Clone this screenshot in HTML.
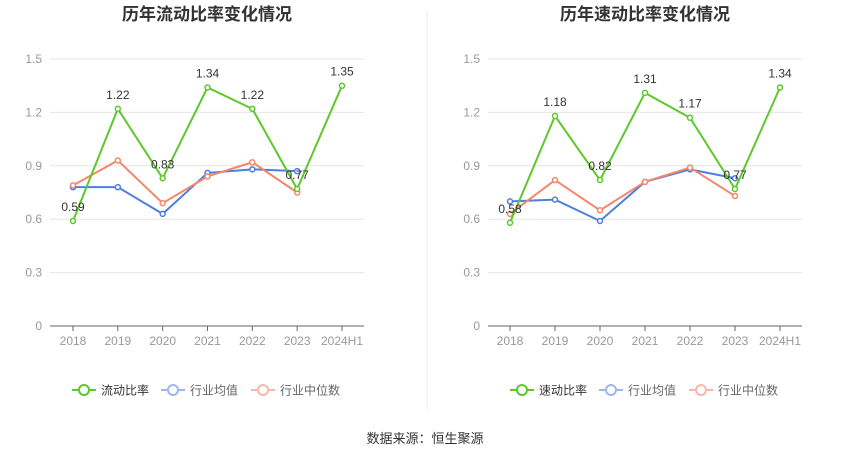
<!DOCTYPE html>
<html><head><meta charset="utf-8"><style>
body{margin:0;background:#fff;font-family:"Liberation Sans","Noto Sans CJK SC",sans-serif}
svg text{font-family:"Liberation Sans","Noto Sans CJK SC",sans-serif}
</style></head><body>
<svg id="s" width="850" height="459">
<line x1="427" y1="10" x2="427" y2="410" stroke="#eee"/>
<text x="425" y="443" font-size="13" fill="#333" text-anchor="middle">数据来源：恒生聚源</text>
</svg>
<script>
const categories=["2018","2019","2020","2021","2022","2023","2024H1"];
const yTicks=[0,0.3,0.6,0.9,1.2,1.5];
const yTickLabels=["0","0.3","0.6","0.9","1.2","1.5"];
const leftTitle="历年流动比率变化情况";
const leftMain=[0.59,1.22,0.83,1.34,1.22,0.77,1.35];
const leftAvg=[0.78,0.78,0.63,0.86,0.88,0.87];
const leftMed=[0.79,0.93,0.69,0.84,0.92,0.75];
const rightTitle="历年速动比率变化情况";
const rightMain=[0.58,1.18,0.82,1.31,1.17,0.77,1.34];
const rightAvg=[0.70,0.71,0.59,0.81,0.88,0.83];
const rightMed=[0.63,0.82,0.65,0.81,0.89,0.73];
const NS="http://www.w3.org/2000/svg";
const svg=document.getElementById("s");
function mk(t,a,p){const e=document.createElementNS(NS,t);for(const k in a)e.setAttribute(k,a[k]);(p||svg).appendChild(e);return e;}
function chart(x0,x1,x2,title,main,avg,med,mainName,prefix){
  const g=mk("g",{});
  
  
  const yb=326,yt=59;
  const y=v=>yb-(v/1.5)*(yb-yt);
  const x=i=>x1+i*(x2-x1)/(categories.length-1);
  const t=mk("text",{x:(x0+x2+22)/2,y:20,"font-size":17,"font-weight":"bold",fill:"#333","text-anchor":"middle"},g);t.textContent=title;
  
  
  yTicks.forEach((v,i)=>{
    if(v>0){const l=mk("line",{x1:x0,x2:x2+22,y1:y(v),y2:y(v),stroke:"#e6e6e6"},g);
    
    }
    const tl=mk("text",{x:x0-8,y:y(v)+4,"font-size":12,fill:"#999","text-anchor":"end"},g);tl.textContent=yTickLabels[i];
    
    
  });
  const ax=mk("line",{x1:x0,x2:x2+22,y1:yb,y2:yb,stroke:"#666"},g);
  
  
  categories.forEach((c,i)=>{
    mk("line",{x1:x(i),x2:x(i),y1:yb,y2:yb+5,stroke:"#666"},g);
    const tl=mk("text",{x:x(i),y:yb+19,"font-size":12,fill:"#999","text-anchor":"middle"},g);tl.textContent=c;
    
    
  });
  function series(d,col,name,w){
    const p=mk("polyline",{points:d.map((v,i)=>x(i)+","+y(v)).join(" "),fill:"none",stroke:col,"stroke-width":w},g);
    
    
    d.forEach((v,i)=>{const c=mk("circle",{cx:x(i),cy:y(v),r:2.5,fill:"#fff",stroke:col,"stroke-width":1.5},g);
      
      });
  }
  series(avg,"#4a7fe0","avg",2);
  series(med,"#f4876a","median",2);
  series(main,"#5cc82b","main",2);
  main.forEach((v,i)=>{const l=mk("text",{x:x(i),y:y(v)-10,"font-size":12,fill:"#333","text-anchor":"middle"},g);l.textContent=v.toFixed(2);
    
    });
  const items=[[mainName,"#5cc82b","#333"],["行业均值","#9bb7ee","#666"],["行业中位数","#f7b9a6","#666"]];
  let lx=(x0+x2+22)/2-135;const widths=[89,90,100];
  items.forEach((it,k)=>{
    const lg=mk("g",{},g);
    
    
    mk("line",{x1:lx,x2:lx+24,y1:390,y2:390,stroke:it[1],"stroke-width":2},lg);
    mk("circle",{cx:lx+12,cy:390,r:5,fill:"#fff",stroke:it[1],"stroke-width":2},lg);
    const tx=mk("text",{x:lx+29,y:394.5,"font-size":12,fill:it[2]},lg);tx.textContent=it[0];
    lx+=widths[k];
  });
}
chart(50,73,342,leftTitle,leftMain,leftAvg,leftMed,"流动比率","left");
chart(488,510,780,rightTitle,rightMain,rightAvg,rightMed,"速动比率","right");
</script>
</body></html>
